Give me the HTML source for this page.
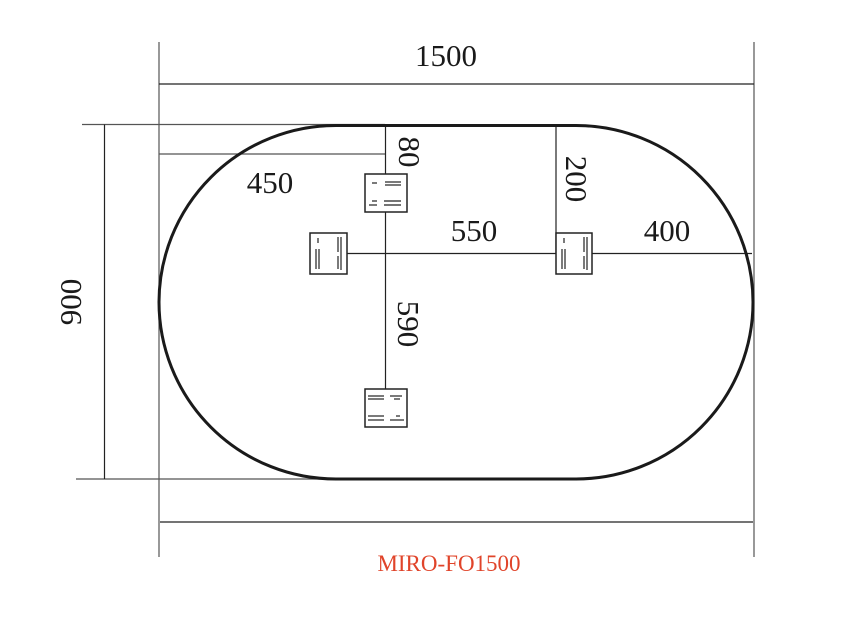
<!DOCTYPE html>
<html><head><meta charset="utf-8"><style>html,body{margin:0;padding:0;background:#fff}svg{display:block}</style></head>
<body>
<svg width="852" height="617" viewBox="0 0 852 617" xmlns="http://www.w3.org/2000/svg" font-family="Liberation Serif, serif">
<g stroke="#555" stroke-width="1.2" fill="none">
<line x1="159" y1="42" x2="159" y2="557"/>
<line x1="754" y1="42" x2="754" y2="557"/>
<line x1="82" y1="124.5" x2="385" y2="124.5"/>
<line x1="76" y1="479" x2="340" y2="479"/>
<line x1="159" y1="154" x2="385" y2="154"/>
</g>
<g stroke="#222" stroke-width="1.2" fill="none">
<line x1="159" y1="84" x2="754" y2="84"/>
<line x1="160" y1="522" x2="753" y2="522"/>
<line x1="104.5" y1="124.5" x2="104.5" y2="479"/>
<line x1="385.5" y1="124.5" x2="385.5" y2="408"/>
<line x1="556" y1="124.5" x2="556" y2="253"/>
<line x1="330" y1="253.5" x2="752" y2="253.5"/>
</g>
<path d="M336,125.5 L576,125.5 A177,177 0 0 1 753,302 A177,177 0 0 1 576,479 L336,479 A177,177 0 0 1 159,302 A177,177 0 0 1 336,125.5 Z" fill="none" stroke="#1a1a1a" stroke-width="3"/>
<g stroke="#222" fill="#fff" stroke-width="1.5">
<rect x="365" y="174" width="42" height="38"/>
<rect x="310" y="233" width="37" height="41"/>
<rect x="556" y="233" width="36" height="41"/>
<rect x="365" y="389" width="42" height="38"/>
</g>
<g stroke="#222" stroke-width="1.2">
<line x1="372" y1="183" x2="377" y2="183"/><line x1="385" y1="182" x2="401" y2="182"/><line x1="385" y1="185" x2="401" y2="185"/>
<line x1="372" y1="201" x2="377" y2="201"/><line x1="384" y1="201" x2="401" y2="201"/><line x1="369" y1="205" x2="377" y2="205"/><line x1="384" y1="205" x2="401" y2="205"/>
<line x1="318" y1="238" x2="318" y2="243"/><line x1="338" y1="237" x2="338" y2="252"/><line x1="341" y1="237" x2="341" y2="270"/><line x1="316" y1="249" x2="316" y2="269"/><line x1="319" y1="249" x2="319" y2="269"/><line x1="338" y1="256" x2="338" y2="269"/>
<line x1="564" y1="238" x2="564" y2="243"/><line x1="584" y1="237" x2="584" y2="252"/><line x1="587" y1="237" x2="587" y2="270"/><line x1="562" y1="249" x2="562" y2="269"/><line x1="565" y1="249" x2="565" y2="269"/><line x1="584" y1="256" x2="584" y2="269"/>
<line x1="368" y1="396" x2="384" y2="396"/><line x1="368" y1="399" x2="384" y2="399"/><line x1="390" y1="396" x2="402" y2="396"/><line x1="394" y1="399" x2="400" y2="399"/>
<line x1="368" y1="416" x2="384" y2="416"/><line x1="368" y1="420" x2="384" y2="420"/><line x1="396" y1="416" x2="400" y2="416"/><line x1="390" y1="420" x2="404" y2="420"/>
</g>
<g fill="#1a1a1a" font-size="31">
<text x="446" y="66" text-anchor="middle">1500</text>
<text x="270" y="193" text-anchor="middle">450</text>
<text x="474" y="241" text-anchor="middle">550</text>
<text x="667" y="241" text-anchor="middle">400</text>
<text transform="translate(399,152) rotate(90)" text-anchor="middle">80</text>
<text transform="translate(566,179) rotate(90)" text-anchor="middle">200</text>
<text transform="translate(398,324) rotate(90)" text-anchor="middle">590</text>
<text transform="translate(81,302) rotate(-90)" text-anchor="middle">900</text>
</g>
<text x="449" y="571" text-anchor="middle" font-size="23" fill="#e0442a">MIRO-FO1500</text>
</svg>
</body></html>
